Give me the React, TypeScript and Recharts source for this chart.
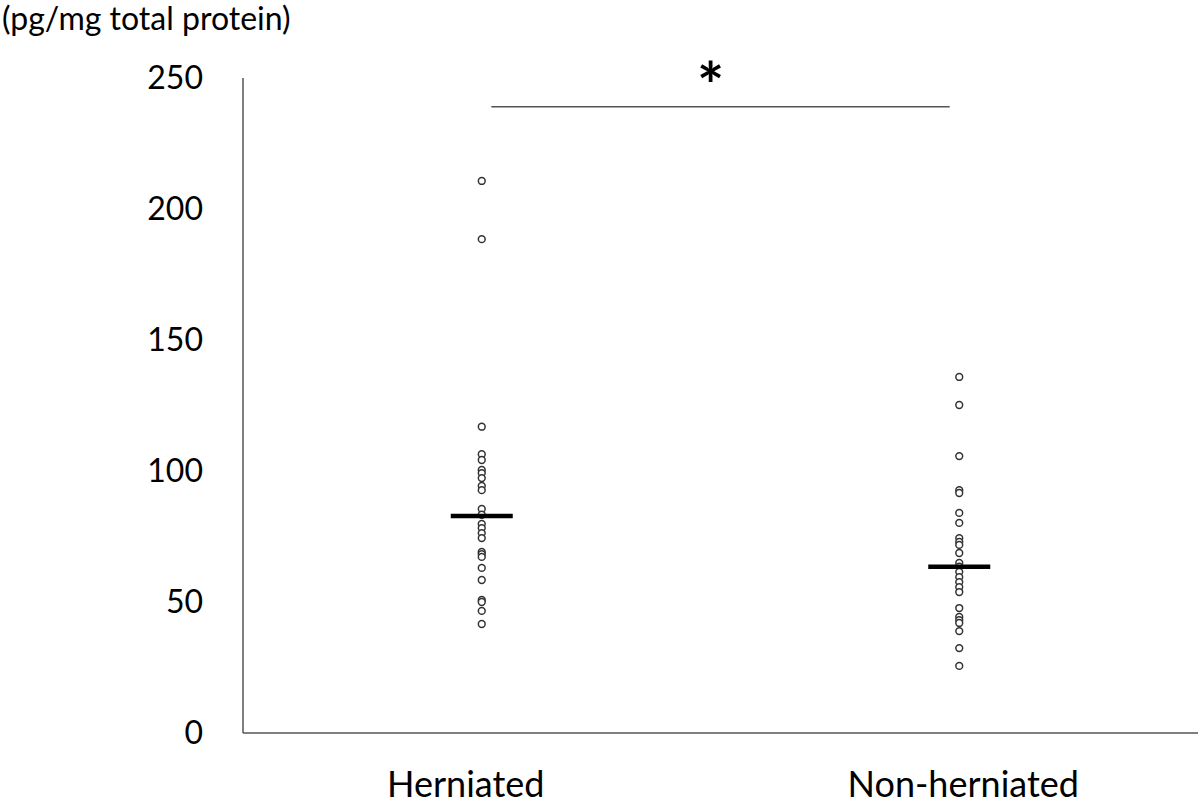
import { ScatterChart, Scatter, XAxis, YAxis, ReferenceLine } from "recharts";

const categories = ["Herniated", "Non-herniated"];
const categoryPos = [1, 3];

const herniated = [
  210.7, 188.5, 116.9, 106.4, 104.2, 100.4, 99.2, 97.3, 94.3, 92.7, 85.5, 83.3,
  79.8, 78.2, 76.3, 74.4, 69.1, 68.3, 67.2, 63.0, 58.4, 50.8, 50.0, 46.6, 41.6,
];
const nonHerniated = [
  135.9, 125.2, 105.7, 92.7, 91.6, 84.0, 80.2, 74.4, 72.9, 71.8, 68.7, 64.9,
  63.5, 61.5, 59.5, 57.6, 55.7, 53.8, 47.7, 44.3, 43.1, 42.0, 38.9, 32.4, 25.6,
];
const medians = [82.8, 63.5];
const yTicks = [0, 50, 100, 150, 200, 250];

// significance bracket between the two groups
const sigFrom = 1.04;
const sigTo = 2.96;
const sigLevel = 239;

const hData = herniated.map((v) => ({ x: categoryPos[0], y: v }));
const nData = nonHerniated.map((v) => ({ x: categoryPos[1], y: v }));
const medData = medians.map((v, i) => ({ x: categoryPos[i], y: v }));

const FONT = "Lato, 'Open Sans', sans-serif";

const OpenDot = (props: any) => {
  const { cx, cy } = props;
  return <circle cx={cx} cy={cy} r={3.4} fill="#fff" stroke="#333" strokeWidth={1.5} />;
};

const MedianBar = (props: any) => {
  const { cx, cy } = props;
  return <line x1={cx - 31} x2={cx + 31} y1={cy} y2={cy} stroke="#000" strokeWidth={4.5} />;
};

const catShift = [-16, 4];

const CategoryTick = (props: any) => {
  const { x, y, payload, index } = props;
  const i = categoryPos.indexOf(payload.value);
  return (
    <text
      x={x + (catShift[i] ?? 0)}
      y={y + 56}
      textAnchor="middle"
      fontSize={36}
      fontFamily={FONT}
      fill="#000"
      key={index}
    >
      {categories[i]}
    </text>
  );
};

const StarLabel = (props: any) => {
  const { viewBox } = props;
  const cx = viewBox.x + viewBox.width / 2;
  return (
    <text x={cx - 10} y={viewBox.y + 2} textAnchor="middle" fontSize={64} fontWeight="bold" fontFamily={FONT} fill="#000">
      *
    </text>
  );
};

export default function App() {
  return (
    <div style={{ position: "absolute", left: 0, top: 0, width: 1200, height: 807, background: "#fff" }}>
      <div
        style={{
          position: "absolute",
          left: 2,
          top: -2,
          fontFamily: FONT,
          fontSize: 32,
          lineHeight: "40px",
          color: "#000",
          whiteSpace: "nowrap",
        }}
      >
        (pg/mg total protein)
      </div>
      <ScatterChart width={1200} height={807} margin={{ top: 78, right: 2, bottom: 0, left: 0 }}>
        <XAxis
          type="number"
          dataKey="x"
          domain={[0, 4]}
          ticks={categoryPos}
          tickLine={false}
          axisLine={{ stroke: "#555", strokeWidth: 1.5 }}
          tick={<CategoryTick />}
          height={74}
          interval={0}
        />
        <YAxis
          type="number"
          dataKey="y"
          domain={[0, 250]}
          ticks={yTicks}
          tickLine={false}
          axisLine={{ stroke: "#555", strokeWidth: 1.5 }}
          width={243}
          tickMargin={34}
          tick={{ fontSize: 32, fill: "#000", fontFamily: FONT }}
        />
        <ReferenceLine
          segment={[
            { x: sigFrom, y: sigLevel },
            { x: sigTo, y: sigLevel },
          ]}
          stroke="#555"
          strokeWidth={1.5}
          label={<StarLabel />}
          ifOverflow="visible"
        />
        <Scatter data={hData} shape={<OpenDot />} isAnimationActive={false} />
        <Scatter data={nData} shape={<OpenDot />} isAnimationActive={false} />
        <Scatter data={medData} shape={<MedianBar />} isAnimationActive={false} />
      </ScatterChart>
    </div>
  );
}
